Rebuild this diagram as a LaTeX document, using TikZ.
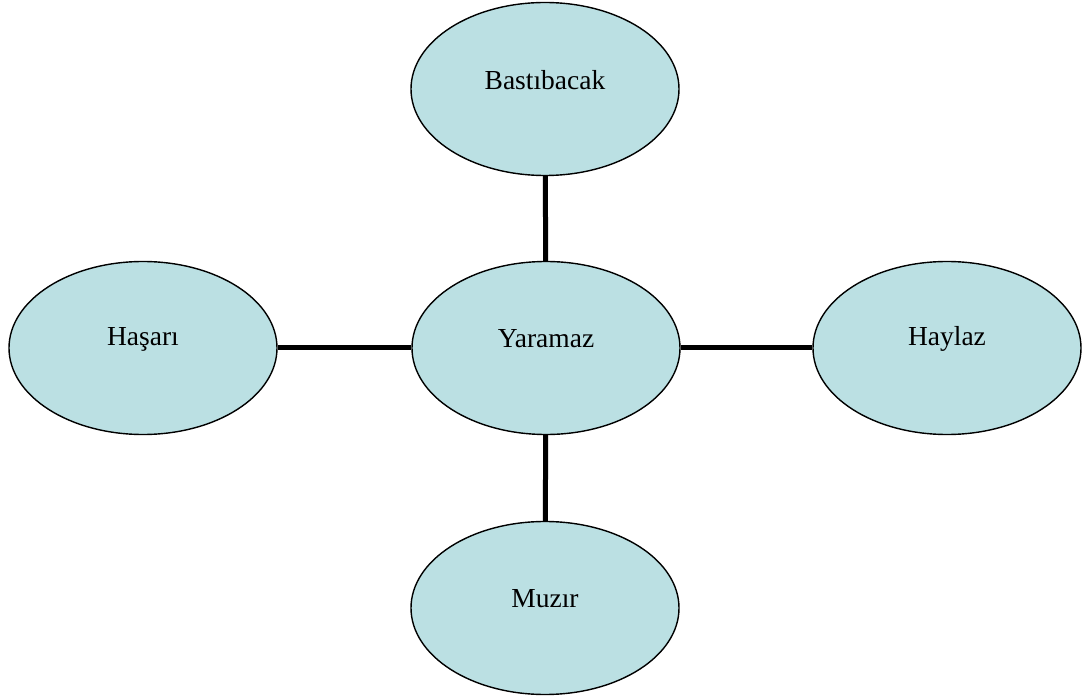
\documentclass[tikz,border=0pt]{standalone}
\usepackage{fontspec}
\setmainfont{Liberation Serif}
\usetikzlibrary{shapes.geometric}
\definecolor{ellfill}{RGB}{187,224,227}
\begin{document}
\begin{tikzpicture}[x=1pt,y=-1pt,
  ell/.style={ellipse,draw=black,line width=1.4pt,fill=ellfill,minimum width=268pt,minimum height=173pt,inner sep=0pt},
  lbl/.style={font=\fontsize{27.5}{30}\selectfont,yshift=9pt},
  conn/.style={draw=black,line width=5pt}]
\useasboundingbox (0,0) rectangle (1090,700);
\node[ell,label={[lbl]center:Bastıbacak}] (top) at (545,89) {};
\node[ell,label={[lbl]center:Yaramaz}] (mid) at (546,348) {};
\node[ell,label={[lbl]center:Haşarı}] (left) at (143,348) {};
\node[ell,label={[lbl]center:Haylaz}] (right) at (947,348) {};
\node[ell,label={[lbl]center:Muzır}] (bot) at (545,608) {};
\draw[conn] (top) -- (mid);
\draw[conn] (mid) -- (bot);
\draw[conn] (left) -- (mid);
\draw[conn] (mid) -- (right);
\end{tikzpicture}
\end{document}
